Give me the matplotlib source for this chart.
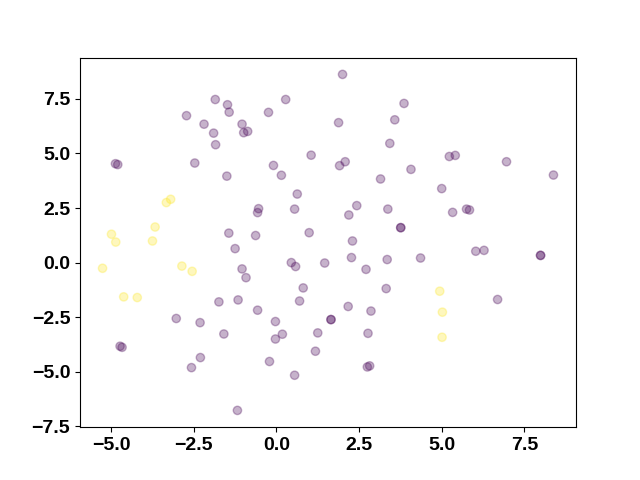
import numpy as np
import matplotlib
matplotlib.use("Agg")
import matplotlib.pyplot as plt
from matplotlib.ticker import MultipleLocator

# class 0 (purple) points
x0 = [-1.85, -1.48, -1.43, -2.72, -2.19, -1.04, -1.90, -0.99, -0.87, -1.84,
      -4.87, -4.80, -2.47, -1.50, -1.44, -1.25, 2.00, 0.28, 3.86, -0.24,
      3.58, 1.88, 3.43, 1.05, -0.09, 1.91, 2.08, 0.15, 4.07, 3.15,
      0.63, -0.54, -0.57, 0.55, 2.43, 2.19, 3.37, 3.76, 3.76, -0.63,
      0.99, 2.30, 5.23, 5.41, 6.96, 8.38, 5.00, 5.33, 5.75, 5.84,
      -1.04, -0.92, -1.74, -1.16, -3.03, -2.31, -1.59, -4.73, -4.67, -2.30,
      -2.57, -1.18, 0.45, 0.58, 1.46, 2.27, 2.71, 3.35, 0.81, 0.70,
      3.32, 2.17, 2.86, -0.57, -0.03, 1.65, 1.65, 0.18, -0.03, 1.25,
      2.77, 1.18, -0.21, 2.75, 2.82, 0.55, 4.36, 6.03, 6.28, 7.99,
      7.99, 6.69]
y0 = [7.47, 7.23, 6.89, 6.73, 6.34, 6.34, 5.93, 5.95, 6.01, 5.40,
      4.53, 4.49, 4.56, 3.96, 1.35, 0.64, 8.62, 7.47, 7.29, 6.88,
      6.54, 6.41, 5.46, 4.92, 4.45, 4.44, 4.62, 4.00, 4.27, 3.83,
      3.14, 2.47, 2.29, 2.45, 2.61, 2.18, 2.45, 1.60, 1.60, 1.24,
      1.37, 0.99, 4.86, 4.91, 4.62, 4.01, 3.39, 2.30, 2.45, 2.41,
      -0.29, -0.69, -1.80, -1.71, -2.56, -2.75, -3.27, -3.83, -3.88, -4.35,
      -4.81, -6.77, 0.00, -0.18, -0.02, 0.23, -0.31, 0.14, -1.16, -1.76,
      -1.19, -2.01, -2.22, -2.18, -2.70, -2.61, -2.61, -3.28, -3.50, -3.22,
      -3.24, -4.06, -4.53, -4.78, -4.73, -5.16, 0.21, 0.52, 0.56, 0.33,
      0.33, -1.69]

# class 1 (yellow) points
x1 = [-3.20, -3.33, -3.67, -4.99, -4.86, -3.75, -5.26, -2.86, -2.55, -4.62,
      -4.21, 4.94, 5.02, 5.01]
y1 = [2.90, 2.75, 1.63, 1.30, 0.94, 0.99, -0.26, -0.16, -0.40, -1.57,
      -1.60, -1.31, -2.27, -3.42]

x = np.array(x0 + x1)
y = np.array(y0 + y1)
labels = np.array([0] * len(x0) + [1] * len(x1))

plt.rcParams['font.family'] = ['Liberation Sans', 'DejaVu Sans']
fig, ax = plt.subplots(figsize=(6.4, 4.8), dpi=100)
ax.scatter(x, y, c=labels, cmap='viridis', alpha=0.3)
ax.xaxis.set_major_locator(MultipleLocator(2.5))
ax.yaxis.set_major_locator(MultipleLocator(2.5))
ax.tick_params(labelsize=14)
for lbl in ax.get_xticklabels() + ax.get_yticklabels():
    lbl.set_fontweight('bold')
fig.savefig("out.png")
